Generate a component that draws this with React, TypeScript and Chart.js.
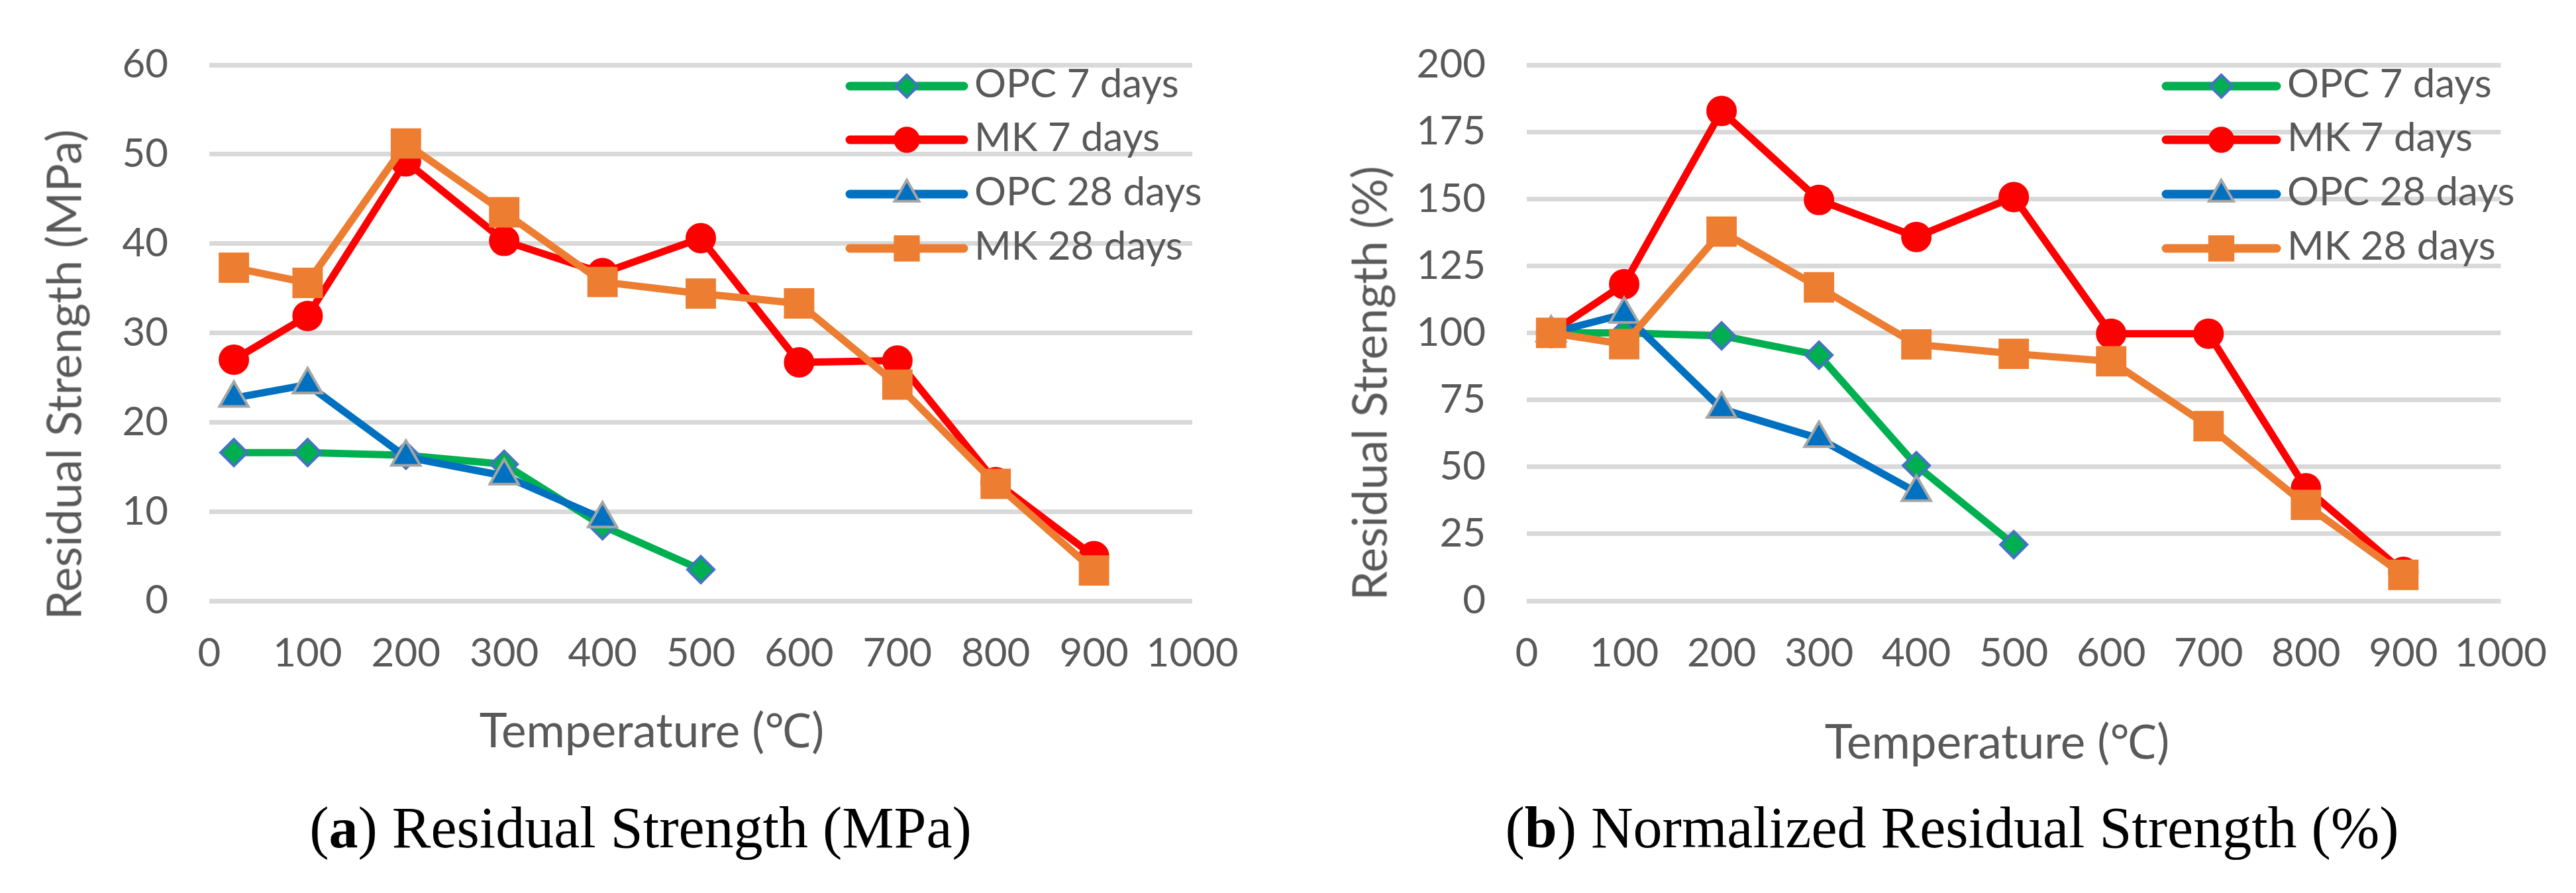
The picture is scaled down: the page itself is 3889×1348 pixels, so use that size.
import React, { useEffect, useRef } from 'react';
import { Chart, registerables } from 'chart.js';

Chart.register(...registerables);

// ---------------- data ----------------
const temperatures = [25, 100, 200, 300, 400, 500, 600, 700, 800, 900];
const seriesNames = ['OPC 7 days', 'MK 7 days', 'OPC 28 days', 'MK 28 days'];

// (a) Residual Strength (MPa)
const mpaOpc7 = [16.6, 16.6, 16.3, 15.3, 8.4, 3.5];
const mpaMk7 = [27.0, 31.9, 49.2, 40.3, 36.7, 40.6, 26.7, 26.9, 13.3, 5.0];
const mpaOpc28 = [22.7, 24.2, 16.1, 14.0, 9.2];
const mpaMk28 = [37.3, 35.6, 51.2, 43.5, 35.7, 34.4, 33.3, 24.2, 13.1, 3.4];

// (b) Normalized Residual Strength (%)
const pctOpc7 = [100, 100, 98.9, 91.7, 50.5, 21.0];
const pctMk7 = [100, 118.2, 182.8, 149.6, 135.8, 150.7, 99.7, 99.7, 42.0, 10.8];
const pctOpc28 = [100, 107.0, 71.6, 60.6, 40.5];
const pctMk28 = [100, 95.8, 137.8, 117.0, 95.7, 92.2, 89.4, 65.2, 35.8, 9.7];

const xTickMax = 1000;
const xTickStep = 100;
const mpaMax = 60;
const mpaStep = 10;
const pctMax = 200;
const pctStep = 25;

// ---------------- styles ----------------
const SANS = 'Lato, "Liberation Sans", sans-serif';
const SERIF = '"Liberation Serif", serif';
const TEXT = '#595959';

const seriesStyle = [
  { color: '#00B050', point: 'rectRot', radius: 20, bg: '#00B050', border: '#4472C4', bw: 4, order: 3 },
  { color: '#FF0000', point: 'circle', radius: 22, bg: '#FF0000', border: '#FF0000', bw: 2, order: 2 },
  { color: '#0070C0', point: 'triangle', radius: 25, bg: '#0070C0', border: '#A5A5A5', bw: 4, order: 1 },
  { color: '#ED7D31', point: 'rect', radius: 31, bg: '#ED7D31', border: '#ED7D31', bw: 2, order: 0 },
];

function toPoints(values: number[]) {
  return values.map((v, i) => ({ x: temperatures[i], y: v }));
}

function makeDatasets(values: number[][]) {
  return values.map((vals, i) => {
    const s = seriesStyle[i];
    return {
      label: seriesNames[i],
      data: toPoints(vals),
      borderColor: s.color,
      backgroundColor: s.color,
      borderWidth: 11,
      borderJoinStyle: 'round' as const,
      borderCapStyle: 'round' as const,
      tension: 0,
      pointStyle: s.point,
      pointRadius: s.radius,
      pointHoverRadius: s.radius,
      pointBackgroundColor: s.bg,
      pointBorderColor: s.border,
      pointBorderWidth: s.bw,
      order: s.order,
    };
  });
}

function drawMarker(ctx: CanvasRenderingContext2D, style: string, x: number, y: number, r: number) {
  ctx.beginPath();
  if (style === 'circle') {
    ctx.arc(x, y, r, 0, Math.PI * 2);
  } else if (style === 'rectRot') {
    ctx.moveTo(x - r, y);
    ctx.lineTo(x, y - r);
    ctx.lineTo(x + r, y);
    ctx.lineTo(x, y + r);
    ctx.closePath();
  } else if (style === 'triangle') {
    for (let k = 0; k < 3; k++) {
      const a = (k * 2 * Math.PI) / 3;
      const px = x + Math.sin(a) * r;
      const py = y - Math.cos(a) * r;
      if (k === 0) ctx.moveTo(px, py);
      else ctx.lineTo(px, py);
    }
    ctx.closePath();
  } else {
    const h = r * Math.SQRT1_2;
    ctx.rect(x - h, y - h, 2 * h, 2 * h);
  }
  ctx.fill();
  ctx.stroke();
}

const excelLegend = {
  id: 'excelLegend',
  afterDraw(chart: any, _args: any, opts: any) {
    const ctx: CanvasRenderingContext2D = chart.ctx;
    ctx.save();
    chart.data.datasets.forEach((ds: any, i: number) => {
      const y = opts.rows[i];
      ctx.strokeStyle = ds.borderColor;
      ctx.lineWidth = 13;
      ctx.lineCap = 'round';
      ctx.beginPath();
      ctx.moveTo(opts.x1, y);
      ctx.lineTo(opts.x2, y);
      ctx.stroke();
      ctx.lineCap = 'butt';
      ctx.fillStyle = ds.pointBackgroundColor;
      ctx.strokeStyle = ds.pointBorderColor;
      ctx.lineWidth = ds.pointBorderWidth;
      drawMarker(ctx, ds.pointStyle, (opts.x1 + opts.x2) / 2, y, ds.pointRadius * 0.85);
      ctx.fillStyle = TEXT;
      ctx.font = `${opts.fontSize}px ${SANS}`;
      ctx.textAlign = 'left';
      ctx.textBaseline = 'middle';
      ctx.fillText(ds.label, opts.textX, y - 2);
    });
    ctx.restore();
  },
};

function makeConfig(values: number[][], yMax: number, yStep: number, yAxisWidth: number, padRight: number, legend: any): any {
  return {
    type: 'line',
    data: { datasets: makeDatasets(values) },
    plugins: [excelLegend],
    options: {
      responsive: false,
      animation: false,
      devicePixelRatio: 1,
      events: [],
      layout: { padding: { left: 0, top: 91, right: padRight, bottom: 0 } },
      plugins: {
        legend: { display: false },
        tooltip: { enabled: false },
        excelLegend: legend,
      },
      scales: {
        x: {
          type: 'linear',
          min: 0,
          max: xTickMax,
          grid: { display: false, drawTicks: false },
          border: { display: false },
          ticks: {
            stepSize: xTickStep,
            padding: 44,
            color: TEXT,
            font: { family: SANS, size: 60 },
            maxRotation: 0,
            minRotation: 0,
            autoSkip: false,
            callback: (v: any) => String(v),
          },
          afterFit: (scale: any) => {
            scale.height = 153;
          },
        },
        y: {
          type: 'linear',
          min: 0,
          max: yMax,
          grid: { color: '#D9D9D9', lineWidth: 7, drawTicks: false },
          border: { display: false },
          ticks: { stepSize: yStep, padding: 62, color: TEXT, font: { family: SANS, size: 60 }, callback: (v: any) => String(v) },
          afterFit: (scale: any) => {
            scale.width = yAxisWidth;
          },
        },
      },
    },
  };
}

function Panel({ left, width, config }: { left: number; width: number; config: any }) {
  const ref = useRef<HTMLCanvasElement>(null);
  useEffect(() => {
    const chart = new Chart(ref.current as HTMLCanvasElement, config);
    return () => chart.destroy();
  }, []);
  return (
    <canvas
      ref={ref}
      width={width}
      height={1060}
      style={{ position: 'absolute', left, top: 0, width, height: 1060 }}
    />
  );
}

const abs = (s: React.CSSProperties): React.CSSProperties => ({ position: 'absolute', whiteSpace: 'nowrap', ...s });

export default function App() {
  const leftCfg = makeConfig([mpaOpc7, mpaMk7, mpaOpc28, mpaMk28], mpaMax, mpaStep, 316, 150, {
    rows: [130, 211, 293, 375],
    x1: 1283,
    x2: 1455,
    textX: 1471,
    fontSize: 60,
  });
  const rightCfg = makeConfig([pctOpc7, pctMk7, pctOpc28, pctMk28], pctMax, pctStep, 355, 111, {
    rows: [130, 211, 293, 375],
    x1: 1320,
    x2: 1487,
    textX: 1503,
    fontSize: 60,
  });
  const titleStyle = { fontFamily: SANS, fontSize: 71, lineHeight: '71px', color: TEXT, textAlign: 'center' as const, width: 1000, height: 71 };
  const capStyle = { fontFamily: SERIF, fontSize: 88, lineHeight: '88px', color: '#000', textAlign: 'center' as const, width: 2000, height: 88 };
  return (
    <div style={{ position: 'absolute', left: 0, top: 0, width: 3889, height: 1348, background: '#fff', overflow: 'hidden' }}>
      <Panel left={0} width={1950} config={leftCfg} />
      <Panel left={1950} width={1939} config={rightCfg} />
      <div style={abs({ ...titleStyle, left: 95 - 500, top: 566 - 36, transform: 'rotate(-90deg)' })}>Residual Strength (MPa)</div>
      <div style={abs({ ...titleStyle, left: 2066 - 500, top: 579 - 36, transform: 'rotate(-90deg)' })}>Residual Strength (%)</div>
      <div style={abs({ ...titleStyle, left: 984 - 500, top: 1065 })}>Temperature (℃)</div>
      <div style={abs({ ...titleStyle, left: 3015 - 500, top: 1082 })}>Temperature (℃)</div>
      <div style={abs({ ...capStyle, left: 967 - 1000, top: 1206 })}>
        (<b>a</b>) Residual Strength (MPa)
      </div>
      <div style={abs({ ...capStyle, left: 2947 - 1000, top: 1206 })}>
        (<b>b</b>) Normalized Residual Strength (%)
      </div>
    </div>
  );
}
